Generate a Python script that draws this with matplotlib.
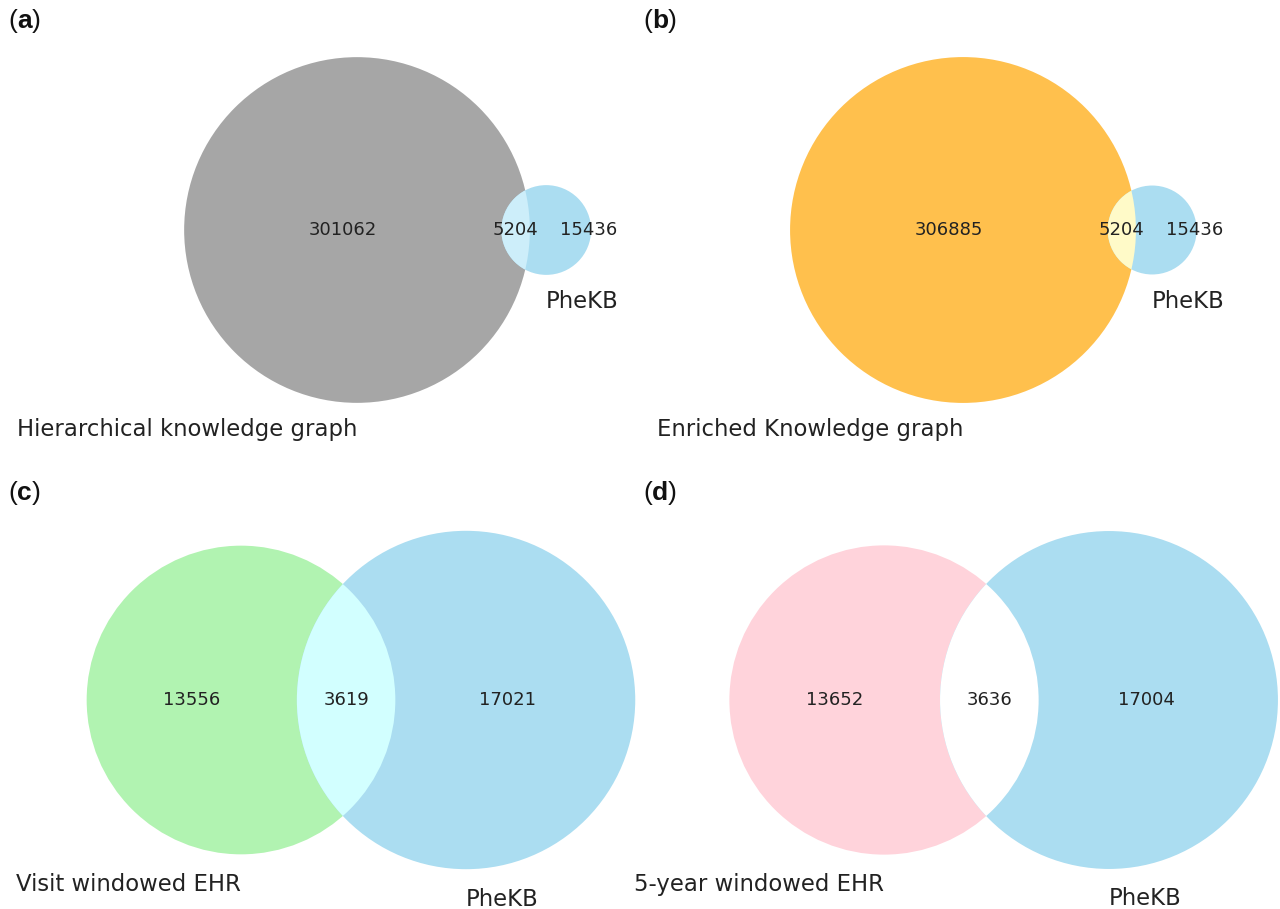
import numpy as np
import matplotlib
matplotlib.use("Agg")
import matplotlib.pyplot as plt
from matplotlib.patches import Circle
from matplotlib.colors import to_rgb

# ---- data -------------------------------------------------------------
panel_tags = ["a", "b", "c", "d"]
set_a_names = ["Hierarchical knowledge graph", "Enriched Knowledge graph",
               "Visit windowed EHR", "5-year windowed EHR"]
set_b_names = ["PheKB", "PheKB", "PheKB", "PheKB"]
only_a = [301062, 306885, 13556, 13652]
only_b = [15436, 15436, 17021, 17004]
shared = [5204, 5204, 3619, 3636]

# ---- style ------------------------------------------------------------
colors_a = ["gray", "orange", "lightgreen", "pink"]
colors_b = ["skyblue", "skyblue", "skyblue", "skyblue"]
colors_ab = ["#cdeefa", "#fffac8", "#d2ffff", "#ffffff"]
ALPHA = 0.7
TEXT_COLOR = "#222222"

W, H, DPI = 1280, 909, 100

# panel frames in pixels (left, top, width, height), centre of set A,
# and drawing scale (pixels per unit of normalised area geometry)
frames = [(0, 0, 640, 455), (640, 0, 640, 455),
          (0, 455, 640, 454), (640, 455, 640, 454)]
anchors = [(357, 230), (963, 230), (241, 700), (884, 700)]
scales = [314, 314, 386, 386]
b_label_shift = [0.09, 0.09, -0.02, -0.03]
tag_pos = [(8, 28), (643, 28), (8, 500), (643, 500)]


def blend(color, alpha=ALPHA):
    c = np.array(to_rgb(color))
    return tuple(1 - alpha * (1 - c))


def lens_area(r1, r2, d):
    if d >= r1 + r2:
        return 0.0
    if d <= abs(r1 - r2):
        return np.pi * min(r1, r2) ** 2
    a1 = r1 ** 2 * np.arccos((d * d + r1 * r1 - r2 * r2) / (2 * d * r1))
    a2 = r2 ** 2 * np.arccos((d * d + r2 * r2 - r1 * r1) / (2 * d * r2))
    a3 = 0.5 * np.sqrt((-d + r1 + r2) * (d + r1 - r2) * (d - r1 + r2) * (d + r1 + r2))
    return a1 + a2 - a3


def venn_layout(a_only, b_only, ab):
    """Area-proportional radii and centre distance (total area = 1)."""
    total = a_only + b_only + ab
    ra = np.sqrt((a_only + ab) / total / np.pi)
    rb = np.sqrt((b_only + ab) / total / np.pi)
    target = ab / total
    lo, hi = abs(ra - rb), ra + rb
    for _ in range(200):
        mid = 0.5 * (lo + hi)
        if lens_area(ra, rb, mid) > target:
            lo = mid
        else:
            hi = mid
    return ra, rb, 0.5 * (lo + hi)


fig = plt.figure(figsize=(W / DPI, H / DPI), dpi=DPI)
fig.patch.set_facecolor("white")

for i in range(4):
    x0, y0, fw, fh = frames[i]
    px, py = anchors[i]
    s = scales[i]
    ax = fig.add_axes([x0 / W, 1 - (y0 + fh) / H, fw / W, fh / H])
    ax.set_xlim((x0 - px) / s, (x0 + fw - px) / s)
    ax.set_ylim((py - (y0 + fh)) / s, (py - y0) / s)
    ax.axis("off")

    ra, rb, d = venn_layout(only_a[i], only_b[i], shared[i])
    ca, cb = (0.0, 0.0), (d, 0.0)

    circ_a = Circle(ca, ra, fc=blend(colors_a[i]), ec="none", zorder=1)
    circ_b = Circle(cb, rb, fc=blend(colors_b[i]), ec="none", zorder=2)
    ax.add_patch(circ_a)
    ax.add_patch(circ_b)
    inter = Circle(cb, rb, fc=colors_ab[i], ec="none", zorder=3)
    ax.add_patch(inter)
    inter.set_clip_path(circ_a)

    # subset labels on the centre line, midway across each region
    xa = 0.5 * ((-ra) + (d - rb))
    xab = 0.5 * ((d - rb) + ra)
    xb = 0.5 * (ra + (d + rb)) + b_label_shift[i]
    for xv, val in ((xa, only_a[i]), (xab, shared[i]), (xb, only_b[i])):
        ax.text(xv, 0.0, str(val), ha="center", va="center",
                fontsize=13, color=TEXT_COLOR, zorder=5)

    # set labels under each circle
    off = 0.048
    ax.text(0.0, -ra - off, set_a_names[i], ha="right", va="top",
            fontsize=16.4, color=TEXT_COLOR, zorder=5)
    ax.text(d, -rb - off, set_b_names[i], ha="left", va="top",
            fontsize=16.4, color=TEXT_COLOR, zorder=5)

# panel tags: "(" + bold letter + ")"
fam = ["Liberation Sans", "DejaVu Sans"]
for i, tag in enumerate(panel_tags):
    tx, ty = tag_pos[i]
    t1 = fig.text(tx / W, 1 - ty / H, "(", fontsize=19, family=fam,
                  va="baseline", ha="left", color="#111111")
    t2 = fig.text(0, 0, "", fontsize=19)
    t2 = plt.annotate(tag, xy=(1, 0), xycoords=t1, va="bottom", ha="left",
                      fontsize=19, family=fam, fontweight="bold", color="#111111",
                      annotation_clip=False)
    plt.annotate(")", xy=(1, 0), xycoords=t2, va="bottom", ha="left",
                 fontsize=19, family=fam, color="#111111", annotation_clip=False)

fig.savefig("out.png", dpi=DPI, facecolor="white")
